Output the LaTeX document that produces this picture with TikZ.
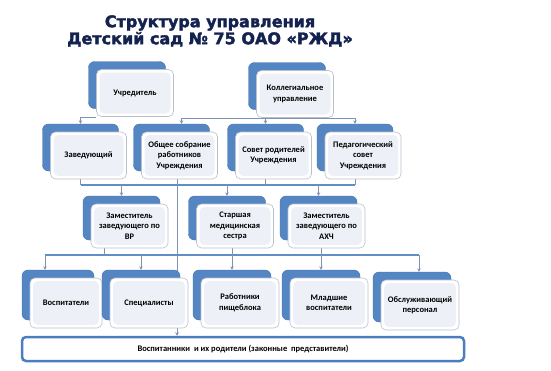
\documentclass[tikz,border=0pt]{standalone}
\usepackage{fontspec}
\setmainfont{Carlito}
\newfontfamily\titlefont[FakeBold=2.2]{DejaVu Sans Bold}
\usepackage{tikz}
\usetikzlibrary{arrows.meta,backgrounds}
\usepackage{xcolor}
\definecolor{boxblue}{RGB}{84,134,196}
\definecolor{frameline}{RGB}{185,192,204}
\definecolor{innerfill}{RGB}{237,241,247}
\definecolor{linkgray}{RGB}{128,148,178}
\definecolor{busblue}{RGB}{98,142,200}
\definecolor{titleblue}{RGB}{20,34,80}
\definecolor{pupilblue}{RGB}{74,126,192}

\begin{document}
\begin{tikzpicture}[x=1pt,y=-1pt,>={Stealth[length=3.5pt,width=3.5pt]},line cap=round,
  back/.style={fill=boxblue,draw=boxblue!85!black,line width=0.4pt,rounded corners=6pt,inner sep=0pt},
  front/.style={fill=white,draw=frameline,line width=0.6pt,rounded corners=5pt,inner sep=1pt,align=center,
    font=\bfseries\fontsize{8.5}{10.5}\selectfont,
    path picture={\fill[innerfill] ([shift={(3pt,-3pt)}]path picture bounding box.north west)
      rectangle ([shift={(-3pt,3pt)}]path picture bounding box.south east);}},
  rowa/.style={minimum width=77pt,minimum height=47pt},
  rowb/.style={minimum width=76pt,minimum height=47pt},
  rowc/.style={minimum width=77pt,minimum height=44pt},
  rowd/.style={minimum width=78pt,minimum height=50pt},
  pupil/.style={fill=white,draw=pupilblue,line width=2.5pt,rounded corners=4pt,
    minimum width=442pt,minimum height=24pt,font=\bfseries\fontsize{8.5}{10.5}\selectfont},
  link/.style={draw=linkgray,line width=0.6pt},
  bus/.style={draw=busblue,line width=2pt}]
\useasboundingbox (0,0) rectangle (551,370);

\node[font=\titlefont\fontsize{16}{17}\selectfont,text=titleblue,align=center] (ttl) at (210,31)
  {Структура управления\\Детский сад № 75 ОАО «РЖД»};

% first level
\node[back,rowa] (uchr) at (127,85) {};
\node[front,rowa] (uchrF) at (135,93) {Учредитель};
\node[back,rowa] (kol) at (287,86) {};
\node[front,rowa] (kolF) at (295,94) {Коллегиальное\\управление};

% second level
\node[back,rowb] (zav) at (80.5,147.5) {};
\node[front,rowb] (zavF) at (88.5,155.5) {Заведующий};
\node[back,rowb] (obs) at (171.5,147.5) {};
\node[front,rowb] (obsF) at (179.5,155.5) {Общее собрание\\работников\\Учреждения};
\node[back,rowb] (sov) at (265.5,147.5) {};
\node[front,rowb] (sovF) at (273.5,155.5) {Совет родителей\\Учреждения};
\node[back,rowb] (ped) at (355,147.5) {};
\node[front,rowb] (pedF) at (363,155.5) {Педагогический\\совет\\Учреждения};

% deputies
\node[back,rowc] (zvr) at (121.5,218) {};
\node[front,rowc] (zvrF) at (129.5,226) {Заместитель\\заведующего по\\ВР};
\node[back,rowc] (sts) at (227,218) {};
\node[front,rowc] (stsF) at (235,226) {Старшая\\медицинская\\сестра};
\node[back,rowc] (zax) at (318.5,218) {};
\node[front,rowc] (zaxF) at (326.5,226) {Заместитель\\заведующего по\\АХЧ};

% staff
\node[back,rowd,minimum width=72pt] (vos) at (58,295) {};
\node[front,rowd,minimum width=72pt] (vosF) at (66,303) {Воспитатели};
\node[back,rowd] (spc) at (141,295) {};
\node[front,rowd] (spcF) at (149,303) {Специалисты};
\node[back,rowd] (rab) at (232,295) {};
\node[front,rowd] (rabF) at (240,303) {Работники\\пищеблока};
\node[back,rowd] (mld) at (321,295) {};
\node[front,rowd] (mldF) at (329,303) {Младшие\\воспитатели};
\node[back,rowd] (obl) at (412,297) {};
\node[front,rowd] (oblF) at (420,305) {Обслуживающий\\персонал};

\node[pupil] (pup) at (243,349) {Воспитанники~ и их родители (законные~ представители)};

\coordinate (b1w) at (80.5,185);
\coordinate (b1e) at (355,185);
\coordinate (b2w) at (45,255);
\coordinate (b2e) at (419,255);
\coordinate (obsdown) at ([xshift=5.5pt]obs.south);
\coordinate (vrup) at ([xshift=-17pt]zvr.south);

\begin{scope}[on background layer]
\draw[link,->] (uchrF.south west) -| (zav.north);
\draw[link,->] (kolF.south) -| ([xshift=10pt]obs.north);
\draw[link,->] (kolF.south) -| (sov.north);
\draw[link,->] (kolF.south) -| (ped.north);
\draw[bus] (b1w) -- (b1e);
\draw[link] (zav.south) -- (b1w);
\draw[link] (sov.south) -- (sov.south |- b1w);
\draw[link] (ped.south) -- (b1e);
\draw[link,->] (obsdown) -- (obsdown |- pup.north);
\draw[link,->] (zvr.north |- b1w) -- (zvr.north);
\draw[link,->] (sts.north |- b1w) -- (sts.north);
\draw[link,->] (zax.north |- b1w) -- (zax.north);
\draw[bus] (b2w) -- (b2e);
\draw[link] (vrup) -- (vrup |- b2w);
\draw[link,->] (b2w) -- (b2w |- vos.north);
\draw[link,->] (spc.north |- b2w) -- (spc.north);
\draw[link,->] (rab.north |- sts.south) -- (rab.north);
\draw[link,->] (mld.north |- zax.south) -- (mld.north);
\draw[link,->] (b2e) -- (b2e |- obl.north);
\end{scope}
\end{tikzpicture}
\end{document}
